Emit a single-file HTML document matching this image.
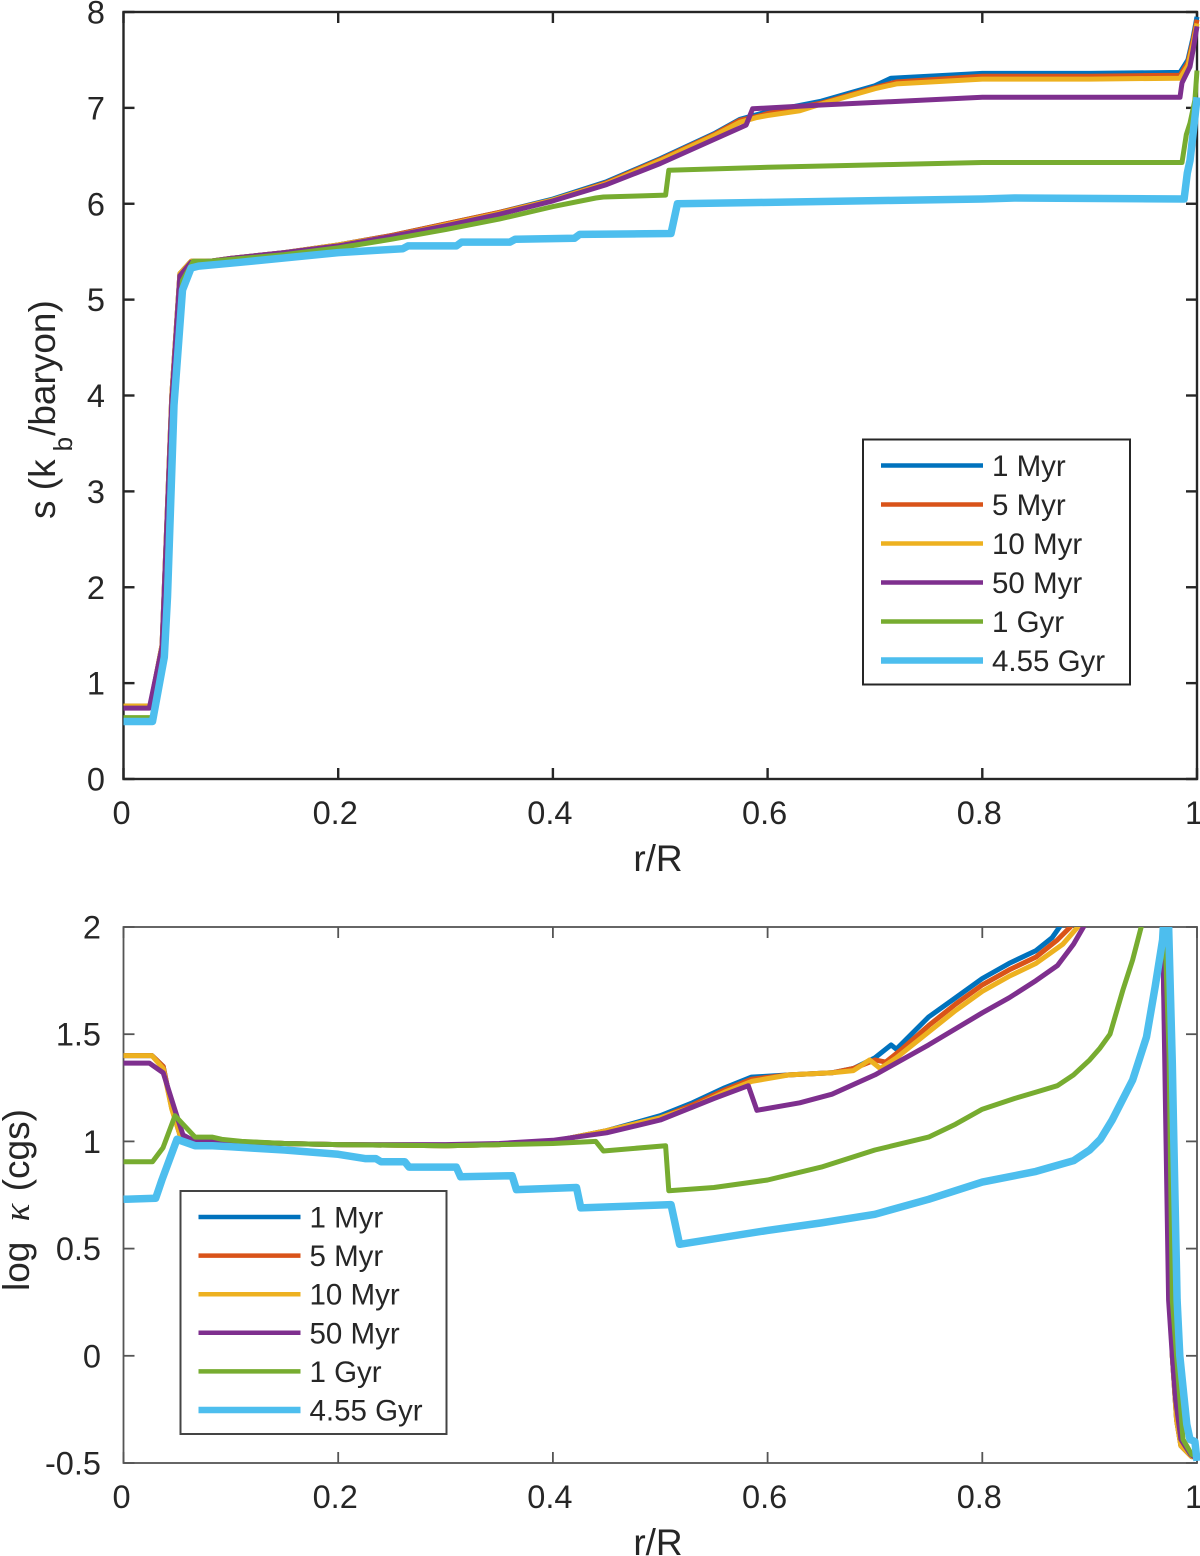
<!DOCTYPE html>
<html lang="en">
<head>
<meta charset="utf-8">
<title>Entropy and opacity profiles</title>
<style>
html,body{margin:0;padding:0;background:#fff;}
svg{display:block;font-family:"Liberation Sans",sans-serif;fill:#262626;filter:blur(0.35px);}
</style>
</head>
<body>
<svg id="chart" width="1200" height="1556" viewBox="0 0 1200 1556" xmlns="http://www.w3.org/2000/svg">
  <defs>
    <clipPath id="clip-top"><rect x="122" y="12" width="1078" height="767"></rect></clipPath>
    <clipPath id="clip-bottom"><rect x="122" y="927" width="1078" height="537"></rect></clipPath>
  </defs>
  <g id="panel-top"></g>
  <g id="panel-bottom"></g>
  <text x="658" y="871" font-size="37" text-anchor="middle">r/R</text>
  <text x="658" y="1555" font-size="37" text-anchor="middle">r/R</text>
  <text transform="translate(55,519) rotate(-90)" font-size="37">s (k<tspan dy="17" dx="8" font-size="26">b</tspan><tspan dy="-17" dx="1">/baryon)</tspan></text>
  <text transform="translate(29,1291) rotate(-90)" font-size="37">log <tspan dx="10" font-family="'Liberation Serif',serif" font-style="italic">κ</tspan> <tspan dx="2">(cgs)</tspan></text>
</svg>
<script>
var legendLabels = ['1 Myr', '5 Myr', '10 Myr', '50 Myr', '1 Gyr', '4.55 Gyr'];
var seriesColors = ['#0072BD', '#D95319', '#EDB120', '#7E2F8E', '#77AC30', '#4DBEEE'];
var seriesWidths = [5, 5, 5, 5, 5, 7.5];
var xTicks = [0, 0.2, 0.4, 0.6, 0.8, 1];
var xTickLabels = ['0', '0.2', '0.4', '0.6', '0.8', '1'];
var entropyTicks = [0, 1, 2, 3, 4, 5, 6, 7, 8];
var entropyTickLabels = ['0', '1', '2', '3', '4', '5', '6', '7', '8'];
var opacityTicks = [-0.5, 0, 0.5, 1, 1.5, 2];
var opacityTickLabels = ['-0.5', '0', '0.5', '1', '1.5', '2'];

var entropyR1Myr = [0, 0.025, 0.036, 0.045, 0.0525, 0.063, 0.08, 0.1, 0.15, 0.2, 0.25, 0.3, 0.35, 0.4, 0.45, 0.5, 0.55, 0.574, 0.59, 0.6, 0.65, 0.7, 0.715, 0.8, 0.9, 0.9842, 0.9915, 0.9963, 1];
var entropyS1Myr = [0.76, 0.76, 1.4, 4.0, 5.27, 5.4, 5.4, 5.43, 5.49, 5.57, 5.67, 5.79, 5.91, 6.05, 6.23, 6.47, 6.73, 6.88, 6.93, 6.96, 7.07, 7.23, 7.31, 7.36, 7.36, 7.37, 7.5, 7.73, 7.95];
var entropyR5Myr = [0, 0.025, 0.036, 0.045, 0.0525, 0.063, 0.08, 0.1, 0.15, 0.2, 0.25, 0.3, 0.35, 0.4, 0.45, 0.5, 0.55, 0.574, 0.59, 0.6, 0.65, 0.7, 0.72, 0.8, 0.9, 0.9842, 0.9915, 0.9963, 1];
var entropyS5Myr = [0.76, 0.76, 1.4, 4.0, 5.27, 5.4, 5.4, 5.43, 5.49, 5.57, 5.67, 5.79, 5.91, 6.04, 6.22, 6.46, 6.72, 6.87, 6.91, 6.94, 7.05, 7.21, 7.27, 7.33, 7.33, 7.34, 7.47, 7.7, 7.92];
var entropyR10Myr = [0, 0.025, 0.036, 0.045, 0.0525, 0.063, 0.08, 0.1, 0.15, 0.2, 0.25, 0.3, 0.35, 0.4, 0.45, 0.5, 0.55, 0.574, 0.59, 0.6, 0.63, 0.65, 0.7, 0.72, 0.8, 0.9, 0.9842, 0.9915, 0.9963, 1];
var entropyS10Myr = [0.76, 0.76, 1.4, 4.0, 5.27, 5.4, 5.4, 5.43, 5.49, 5.57, 5.66, 5.78, 5.9, 6.04, 6.21, 6.45, 6.71, 6.85, 6.9, 6.92, 6.97, 7.04, 7.2, 7.25, 7.3, 7.3, 7.31, 7.44, 7.66, 7.88];
var entropyR50Myr = [0, 0.024, 0.036, 0.045, 0.0525, 0.063, 0.08, 0.1, 0.15, 0.2, 0.25, 0.3, 0.35, 0.4, 0.45, 0.5, 0.55, 0.58, 0.586, 0.65, 0.8, 0.9842, 0.986, 0.9935, 0.9963, 1];
var entropyS50Myr = [0.74, 0.74, 1.38, 3.95, 5.25, 5.39, 5.4, 5.43, 5.49, 5.56, 5.66, 5.77, 5.89, 6.03, 6.2, 6.42, 6.67, 6.82, 6.99, 7.03, 7.11, 7.11, 7.26, 7.43, 7.6, 7.85];
var entropyR1Gyr = [0, 0.027, 0.038, 0.046, 0.055, 0.065, 0.08, 0.1, 0.15, 0.2, 0.25, 0.3, 0.35, 0.4, 0.44, 0.447, 0.505, 0.508, 0.6, 0.8, 0.986, 0.99, 0.9935, 0.998, 1];
var entropyS1Gyr = [0.64, 0.64, 1.3, 3.9, 5.2, 5.4, 5.4, 5.42, 5.47, 5.54, 5.63, 5.73, 5.84, 5.97, 6.06, 6.07, 6.09, 6.35, 6.38, 6.43, 6.43, 6.72, 6.84, 7.08, 7.39];
var entropyR455Gyr = [0, 0.027, 0.038, 0.041, 0.047, 0.055, 0.063, 0.07, 0.1, 0.2, 0.26, 0.265, 0.31, 0.315, 0.36, 0.365, 0.42, 0.425, 0.51, 0.516, 0.8, 0.83, 0.988, 0.991, 0.9935, 0.998, 1];
var entropyS455Gyr = [0.6, 0.6, 1.27, 1.9, 3.9, 5.1, 5.33, 5.35, 5.38, 5.49, 5.53, 5.56, 5.56, 5.6, 5.6, 5.63, 5.64, 5.68, 5.69, 6.0, 6.05, 6.06, 6.05, 6.32, 6.45, 6.9, 7.11];

var opacityR1Myr = [0, 0.0265, 0.037, 0.045, 0.0526, 0.0666, 0.085, 0.1, 0.15, 0.2, 0.3, 0.35, 0.4, 0.45, 0.5, 0.53, 0.56, 0.585, 0.62, 0.66, 0.68, 0.7, 0.715, 0.72, 0.75, 0.775, 0.8, 0.825, 0.85, 0.865, 0.872, 0.89, 0.95, 0.965, 0.968, 0.972, 0.977, 0.981, 0.985, 0.995, 1];
var opacityK1Myr = [1.4, 1.4, 1.35, 1.155, 1.03, 1.0, 1.0, 1.0, 0.99, 0.985, 0.98, 0.985, 1.0, 1.05, 1.12, 1.18, 1.25, 1.3, 1.31, 1.32, 1.34, 1.39, 1.45, 1.43, 1.58, 1.67, 1.76, 1.83, 1.89, 1.95, 2.0, 2.2, 3, 3, 2, 1, 0, -0.3, -0.42, -0.47, -0.47];
var opacityR5Myr = [0, 0.0265, 0.037, 0.045, 0.0526, 0.0666, 0.085, 0.1, 0.15, 0.2, 0.3, 0.35, 0.4, 0.45, 0.5, 0.53, 0.56, 0.585, 0.62, 0.66, 0.68, 0.7, 0.71, 0.725, 0.75, 0.775, 0.8, 0.825, 0.85, 0.87, 0.882, 0.9, 0.95, 0.965, 0.968, 0.972, 0.977, 0.981, 0.985, 0.995, 1];
var opacityK5Myr = [1.4, 1.4, 1.35, 1.155, 1.03, 1.0, 1.0, 1.0, 0.99, 0.985, 0.98, 0.985, 1.0, 1.05, 1.11, 1.17, 1.24, 1.29, 1.31, 1.32, 1.34, 1.38, 1.37, 1.43, 1.54, 1.64, 1.73, 1.8, 1.86, 1.94, 2.0, 2.2, 3, 3, 2, 1, 0, -0.3, -0.42, -0.47, -0.47];
var opacityR10Myr = [0, 0.0265, 0.037, 0.045, 0.0526, 0.0666, 0.085, 0.1, 0.15, 0.2, 0.3, 0.35, 0.4, 0.45, 0.5, 0.53, 0.56, 0.585, 0.62, 0.66, 0.68, 0.695, 0.705, 0.72, 0.75, 0.775, 0.8, 0.825, 0.85, 0.875, 0.889, 0.9, 0.95, 0.965, 0.968, 0.972, 0.977, 0.981, 0.985, 0.995, 1];
var opacityK10Myr = [1.4, 1.4, 1.34, 1.15, 1.03, 1.0, 1.0, 1.0, 0.99, 0.985, 0.98, 0.985, 1.0, 1.05, 1.11, 1.16, 1.23, 1.28, 1.31, 1.32, 1.33, 1.38, 1.34, 1.39, 1.51, 1.61, 1.7, 1.77, 1.83, 1.92, 2.0, 2.1, 3, 3, 2, 1, 0, -0.3, -0.42, -0.47, -0.47];
var opacityR50Myr = [0, 0.024, 0.037, 0.048, 0.0554, 0.0666, 0.085, 0.15, 0.2, 0.3, 0.35, 0.4, 0.45, 0.5, 0.55, 0.582, 0.59, 0.63, 0.66, 0.7, 0.75, 0.8, 0.825, 0.85, 0.87, 0.885, 0.9, 0.95, 0.965, 0.968, 0.9735, 0.977, 0.98, 0.985, 0.994, 1];
var opacityK50Myr = [1.365, 1.365, 1.32, 1.146, 1.03, 1.0, 1.0, 0.99, 0.985, 0.985, 0.99, 1.005, 1.04, 1.1, 1.2, 1.26, 1.145, 1.18, 1.22, 1.31, 1.45, 1.6, 1.67, 1.75, 1.82, 1.92, 2.05, 3, 3, 2, 0.26, 0, -0.2, -0.39, -0.46, -0.48];
var opacityR1Gyr = [0, 0.027, 0.0368, 0.048, 0.0666, 0.0824, 0.0917, 0.11, 0.15, 0.2, 0.3, 0.4, 0.44, 0.447, 0.505, 0.508, 0.55, 0.6, 0.65, 0.7, 0.75, 0.775, 0.8, 0.83, 0.85, 0.87, 0.885, 0.9, 0.9096, 0.919, 0.931, 0.94, 0.948, 0.96, 0.97, 0.974, 0.977, 0.987, 0.995, 1];
var opacityK1Gyr = [0.905, 0.905, 0.97, 1.12, 1.02, 1.02, 1.01, 1.0, 0.99, 0.985, 0.98, 0.99, 1.0, 0.955, 0.98, 0.77, 0.785, 0.82, 0.88, 0.96, 1.02, 1.08, 1.15, 1.2, 1.23, 1.26, 1.31, 1.38, 1.435, 1.5, 1.706, 1.846, 2, 2.4, 2, 1.4, 0.26, -0.39, -0.46, -0.47];
var opacityR455Gyr = [0, 0.03, 0.0358, 0.0498, 0.0666, 0.083, 0.1, 0.15, 0.2, 0.225, 0.235, 0.24, 0.262, 0.266, 0.31, 0.314, 0.362, 0.366, 0.422, 0.426, 0.51, 0.518, 0.6, 0.65, 0.7, 0.75, 0.8, 0.85, 0.885, 0.9, 0.91, 0.921, 0.94, 0.953, 0.961, 0.968, 0.972, 0.977, 0.978, 0.9815, 0.984, 0.9905, 0.9935, 0.998, 1];
var opacityK455Gyr = [0.73, 0.735, 0.82, 1.01, 0.98, 0.98, 0.975, 0.96, 0.94, 0.92, 0.92, 0.905, 0.905, 0.88, 0.88, 0.835, 0.84, 0.775, 0.785, 0.69, 0.705, 0.52, 0.585, 0.62, 0.66, 0.73, 0.81, 0.86, 0.91, 0.96, 1.01, 1.1, 1.286, 1.487, 1.72, 1.94, 2.3, 1.365, 1.1, 0.26, 0, -0.32, -0.39, -0.4, -0.49];

var entropyRs = [entropyR1Myr, entropyR5Myr, entropyR10Myr, entropyR50Myr, entropyR1Gyr, entropyR455Gyr];
var entropySs = [entropyS1Myr, entropyS5Myr, entropyS10Myr, entropyS50Myr, entropyS1Gyr, entropyS455Gyr];
var opacityRs = [opacityR1Myr, opacityR5Myr, opacityR10Myr, opacityR50Myr, opacityR1Gyr, opacityR455Gyr];
var opacityKs = [opacityK1Myr, opacityK5Myr, opacityK10Myr, opacityK50Myr, opacityK1Gyr, opacityK455Gyr];

var SVGNS = 'http://www.w3.org/2000/svg';
var plotLeft = 123.5, plotRight = 1197;
function xScale(r) { return plotLeft + r * (plotRight - plotLeft); }
function linearY(v, vMin, vMax, pxBottom, pxTop) { return pxBottom - (v - vMin) / (vMax - vMin) * (pxBottom - pxTop); }
function entropyY(v) { return linearY(v, 0, 8, 779, 12); }
function opacityY(v) { return linearY(v, -0.5, 2, 1463, 927); }

function make(tag, parent, attrs) {
  var el = document.createElementNS(SVGNS, tag);
  for (var k in attrs) { el.setAttribute(k, attrs[k]); }
  parent.appendChild(el);
  return el;
}

function drawPanel(panel, cfg) {
  var top = cfg.yScale(cfg.yTicks[cfg.yTicks.length - 1]);
  var bottom = cfg.yScale(cfg.yTicks[0]);

  var frame = make('rect', panel, { x: plotLeft, y: top, width: plotRight - plotLeft, height: bottom - top, fill: 'none', stroke: cfg.axisColor, 'stroke-width': cfg.axisWidth });
  
  

  xTicks.forEach(function (t, i) {
    var x = xScale(t);
    var tickB = make('line', panel, { x1: x, x2: x, y1: bottom, y2: bottom - 11, stroke: cfg.axisColor, 'stroke-width': cfg.axisWidth });
    
    
    var tickT = make('line', panel, { x1: x, x2: x, y1: top, y2: top + 11, stroke: cfg.axisColor, 'stroke-width': cfg.axisWidth });
    
    
    var lx = make('text', panel, { x: i === 0 ? x - 2 : x - 3, y: bottom + 45, 'font-size': 32.5, 'text-anchor': 'middle' });
    
    
    lx.textContent = xTickLabels[i];
  });

  cfg.yTicks.forEach(function (t, i) {
    var y = cfg.yScale(t);
    var tickL = make('line', panel, { x1: plotLeft, x2: plotLeft + 11, y1: y, y2: y, stroke: cfg.axisColor, 'stroke-width': cfg.axisWidth });
    
    
    var tickR = make('line', panel, { x1: plotRight, x2: plotRight - 11, y1: y, y2: y, stroke: cfg.axisColor, 'stroke-width': cfg.axisWidth });
    
    
    var ly = make('text', panel, { x: cfg.labelRight, y: y + 11.5, 'font-size': 32.5, 'text-anchor': 'end' });
    
    
    ly.textContent = cfg.yTickLabels[i];
  });

  var lines = make('g', panel, { 'clip-path': 'url(#' + cfg.clip + ')' });
  
  
  cfg.rs.forEach(function (rArr, s) {
    var pts = rArr.map(function (r, i) { return xScale(r).toFixed(1) + ',' + cfg.yScale(cfg.vs[s][i]).toFixed(1); }).join(' ');
    var line = make('polyline', lines, { points: pts, fill: 'none', stroke: seriesColors[s], 'stroke-width': seriesWidths[s], 'stroke-linejoin': 'round', 'stroke-linecap': 'butt' });
    
    
  });

  var L = cfg.legend;
  var box = make('rect', panel, { x: L.x, y: L.y, width: L.w, height: L.h, fill: '#fff', stroke: cfg.legendColor, 'stroke-width': 2 });
  
  
  legendLabels.forEach(function (lab, i) {
    var y = L.y + 26 + i * L.step;
    var swatch = make('line', panel, { x1: L.x + 18, x2: L.x + 120, y1: y, y2: y, stroke: seriesColors[i], 'stroke-width': i === 5 ? 6.5 : 4.5 });
    
    
    var tx = make('text', panel, { x: L.x + 129, y: y + 10.5, 'font-size': 29.5 });
    
    
    tx.textContent = lab;
  });
}

drawPanel(document.getElementById('panel-top'), {
  yScale: entropyY, yTicks: entropyTicks, yTickLabels: entropyTickLabels,
  rs: entropyRs, vs: entropySs, clip: 'clip-top', labelRight: 105,
  axisColor: '#262626', axisWidth: 2.4, legendColor: '#262626',
  legend: { x: 863, y: 439.5, w: 267, h: 245, step: 39 }
});
drawPanel(document.getElementById('panel-bottom'), {
  yScale: opacityY, yTicks: opacityTicks, yTickLabels: opacityTickLabels,
  rs: opacityRs, vs: opacityKs, clip: 'clip-bottom', labelRight: 101,
  axisColor: '#555555', axisWidth: 1.8, legendColor: '#444444',
  legend: { x: 180.5, y: 1191, w: 266, h: 243, step: 38.6 }
});
</script>
</body>
</html>
